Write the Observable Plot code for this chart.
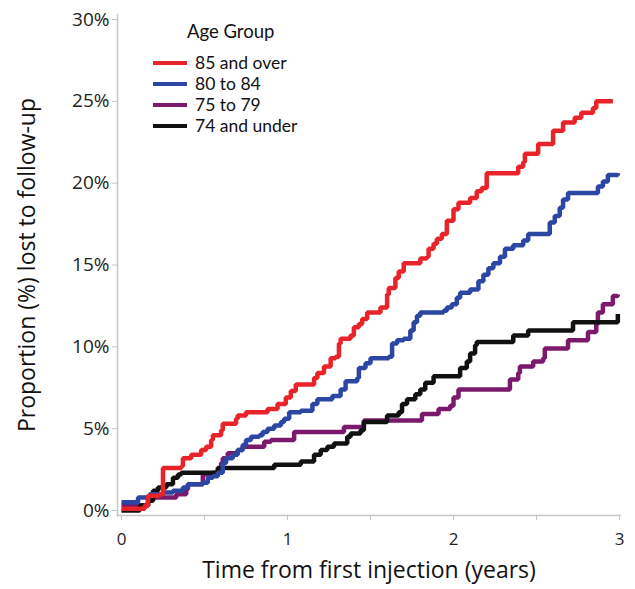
<!DOCTYPE html>
<html><head><meta charset="utf-8">
<script src="https://cdn.jsdelivr.net/npm/d3@7"></script>
<script src="https://cdn.jsdelivr.net/npm/@observablehq/plot@0.6"></script>
<style>
body{margin:0;background:#fff;font-family:"Open Sans",sans-serif}
#wrap{position:relative;width:635px;height:589px}
#legend{position:absolute;left:0;top:0;color:#111;font-family:Lato,"Open Sans",sans-serif}
.ltitle{position:absolute;left:187px;top:20px;font-size:18.5px;line-height:22px;white-space:nowrap}
.lrow{position:absolute;left:153px;height:20px;line-height:20px;display:flex;align-items:center;white-space:nowrap;font-size:17.5px}
.lsw{width:34px;height:4px;margin-right:8px}
</style></head><body><div id="wrap"></div>
<script>
const groups = ["85 and over", "80 to 84", "75 to 79", "74 and under"];
const colors = ["#e8232a", "#2c46a4", "#7b1a6c", "#111111"];
const legendTitle = "Age Group";
const xLabel = "Time from first injection (years)";
const yLabel = "Proportion (%) lost to follow-up";
const xTicks = [0, 1, 2, 3];
const xMinorTicks = [0.5, 1.5, 2.5];
const yTicks = [0, 5, 10, 15, 20, 25, 30];

// 85 and over
const t85 = [0,0.14,0.16,0.23,0.25,0.36,0.37,0.42,0.48,0.51,0.54,0.55,0.60,0.61,0.69,0.70,0.75,0.88,0.94,0.99,1.02,1.05,1.16,1.18,1.22,1.26,1.29,1.31,1.32,1.38,1.40,1.43,1.45,1.48,1.56,1.60,1.61,1.65,1.67,1.70,1.80,1.84,1.85,1.88,1.90,1.93,1.96,2.00,2.03,2.10,2.14,2.17,2.20,2.39,2.42,2.43,2.51,2.60,2.66,2.73,2.77,2.84,2.86,2.96];
const p85 = [0.1,0.3,0.9,1.0,2.6,2.7,3.2,3.4,3.7,3.9,4.3,4.6,4.9,5.3,5.6,5.8,6.0,6.2,6.5,6.9,7.3,7.7,8.1,8.4,8.8,9.3,9.4,10.2,10.5,10.7,11.2,11.4,11.7,12.1,12.4,13.2,13.6,14.2,14.6,15.1,15.4,15.5,16.0,16.3,16.6,16.9,17.7,18.4,18.8,19.1,19.5,19.7,20.6,21.0,21.3,21.8,22.4,23.2,23.7,24.0,24.3,24.6,25.0,25.0];
// 80 to 84
const t80 = [0,0.10,0.17,0.25,0.31,0.37,0.40,0.49,0.52,0.55,0.58,0.61,0.63,0.67,0.70,0.73,0.75,0.78,0.83,0.85,0.88,0.92,0.96,0.98,1.01,1.08,1.15,1.18,1.27,1.32,1.35,1.42,1.43,1.47,1.50,1.61,1.63,1.66,1.70,1.74,1.76,1.78,1.80,1.94,1.96,1.99,2.02,2.04,2.10,2.15,2.18,2.21,2.24,2.28,2.31,2.36,2.42,2.45,2.58,2.61,2.64,2.66,2.69,2.87,2.90,2.93,2.99];
const p80 = [0.5,0.8,1.0,1.1,1.2,1.4,1.6,1.7,2.0,2.1,2.3,2.9,3.2,3.4,3.7,4.0,4.3,4.5,4.6,4.8,5.0,5.2,5.4,5.6,6.0,6.1,6.5,6.8,7.0,7.4,7.9,8.1,8.7,9.0,9.3,9.4,10.2,10.4,10.5,11.0,11.5,11.9,12.1,12.2,12.4,12.6,13.0,13.3,13.5,14.0,14.4,14.8,15.1,15.5,16.0,16.2,16.5,16.9,17.6,18.0,18.5,19.0,19.4,19.8,20.1,20.5,20.6];
// 75 to 79
const t75 = [0,0.16,0.33,0.39,0.40,0.49,0.55,0.60,0.61,0.64,0.70,0.73,0.86,0.90,1.04,1.34,1.46,1.81,1.91,1.98,2.00,2.03,2.34,2.39,2.40,2.48,2.54,2.55,2.69,2.81,2.86,2.87,2.90,2.96,2.99];
const p75 = [0.3,0.8,1.0,1.3,1.6,2.2,2.3,2.9,3.2,3.5,3.7,3.9,4.2,4.3,4.8,5.1,5.5,5.9,6.2,6.4,6.9,7.4,8.0,8.4,8.8,9.1,9.3,9.9,10.4,10.9,11.4,12.1,12.6,13.1,13.2];
// 74 and under
const t74 = [0,0.11,0.16,0.19,0.22,0.27,0.31,0.34,0.36,0.58,0.92,1.08,1.16,1.20,1.24,1.28,1.36,1.38,1.44,1.46,1.60,1.67,1.69,1.72,1.77,1.80,1.83,1.88,2.04,2.08,2.10,2.13,2.14,2.36,2.45,2.72,2.99];
const p74 = [0.0,0.3,0.6,1.2,1.4,1.6,2.0,2.2,2.3,2.6,2.8,3.0,3.4,3.7,3.9,4.1,4.5,4.7,4.9,5.4,5.8,6.0,6.5,6.8,7.1,7.4,7.8,8.2,8.7,9.1,9.6,10.1,10.3,10.7,11.0,11.5,12.0];

const seriesT = {"85 and over": t85, "80 to 84": t80, "75 to 79": t75, "74 and under": t74};
const seriesP = {"85 and over": p85, "80 to 84": p80, "75 to 79": p75, "74 and under": p74};
const drawOrder = ["75 to 79", "74 and under", "80 to 84", "85 and over"];
const data = [];
for (const g of drawOrder) seriesT[g].forEach((t, i) => data.push({group: g, t, p: seriesP[g][i]}));

const axisGrey = "#c6c6c6";
const chart = Plot.plot({
  width: 635, height: 589,
  marginLeft: 117, marginRight: 15, marginTop: 14, marginBottom: 74,
  style: {fontFamily: "'Open Sans', sans-serif", background: "#fff", color: "#222"},
  x: {domain: [0, 3], insetLeft: 4, insetRight: 1},
  y: {domain: [0, 30], insetTop: 5, insetBottom: 5},
  color: {domain: groups, range: colors},
  marks: [
    Plot.frame({anchor: "left", stroke: axisGrey, strokeWidth: 1.5}),
    Plot.frame({anchor: "bottom", stroke: axisGrey, strokeWidth: 1.5}),
    Plot.axisY({ticks: yTicks, tickFormat: d => d + "%", tickSize: 5, tickPadding: 3, fontSize: 19, stroke: axisGrey, fill: "#222", label: null}),
    Plot.axisX({ticks: xTicks, tickFormat: d => String(d), tickSize: 5, tickPadding: 12, fontSize: 17, stroke: axisGrey, fill: "#222", label: null}),
    Plot.axisX({ticks: xMinorTicks, tickFormat: () => "", tickSize: 5, stroke: axisGrey, label: null}),
    Plot.line(data, {x: "t", y: "p", z: "group", stroke: "group", curve: "step-after", strokeWidth: 4.5, strokeLinejoin: "miter", strokeLinecap: "butt"}),
    Plot.text([xLabel], {text: d => d, frameAnchor: "bottom", textAnchor: "middle", dy: 62, fontSize: 23, fill: "#111"}),
    Plot.text([yLabel], {text: d => d, frameAnchor: "left", textAnchor: "middle", dx: -90, rotate: -90, fontSize: 23, fill: "#111"})
  ]
});
const wrap = document.getElementById("wrap");
wrap.appendChild(chart);

const legend = document.createElement("div");
legend.id = "legend";
const title = document.createElement("div");
title.className = "ltitle";
title.textContent = legendTitle;
legend.appendChild(title);
const rowCenters = [63, 84, 105, 126];
groups.forEach((g, i) => {
  const row = document.createElement("div");
  row.className = "lrow";
  row.style.top = (rowCenters[i] - 10) + "px";
  const sw = document.createElement("span");
  sw.className = "lsw";
  sw.style.background = colors[i];
  const tx = document.createElement("span");
  tx.textContent = g;
  row.appendChild(sw); row.appendChild(tx);
  legend.appendChild(row);
});
wrap.appendChild(legend);
</script>
</body></html>
